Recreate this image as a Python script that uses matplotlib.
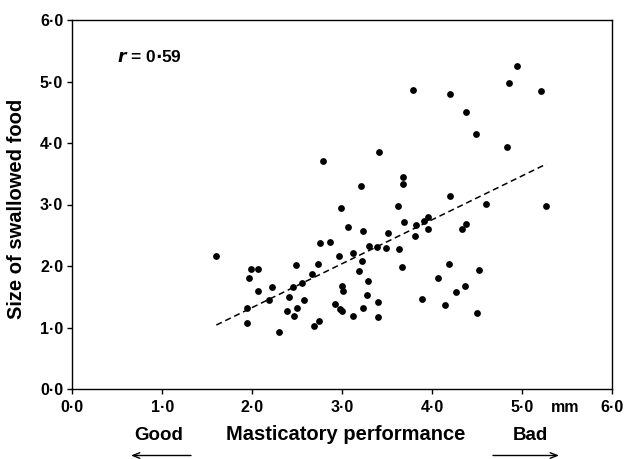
import numpy as np
import matplotlib
matplotlib.use("Agg")
import matplotlib.pyplot as plt
from matplotlib.ticker import FuncFormatter

plt.rcParams['font.family'] = ['Liberation Sans', 'DejaVu Sans']
plt.rcParams['font.weight'] = 'bold'

# masticatory performance (mm) vs size of swallowed food
perf = [1.60, 3.21, 2.98, 3.06, 3.23, 2.75, 2.86, 2.96, 3.12, 3.30,
        3.39, 3.22, 3.18, 3.28, 3.27, 3.40, 3.23, 3.40, 3.12, 3.00,
        3.01, 2.92, 2.97, 3.00, 2.73, 2.66, 2.55, 2.48, 2.45, 2.41,
        2.57, 2.50, 2.38, 2.46, 2.74, 2.69, 2.30, 2.22, 2.19, 2.06,
        1.99, 2.06, 1.96, 1.94, 1.94, 2.79, 3.41, 3.79, 4.20, 4.37,
        4.48, 4.83, 4.94, 4.85, 5.21, 3.67, 3.67, 4.20, 3.62, 4.60,
        5.26, 3.69, 3.95, 3.91, 3.82, 3.95, 3.81, 3.51, 4.37, 4.33,
        3.48, 3.63, 3.66, 4.18, 4.52, 4.06, 4.36, 4.26, 3.89, 4.14,
        4.50]
size = [2.16, 3.30, 2.95, 2.64, 2.57, 2.37, 2.39, 2.17, 2.21, 2.33,
        2.31, 2.08, 1.92, 1.76, 1.53, 1.42, 1.31, 1.17, 1.19, 1.67,
        1.60, 1.39, 1.30, 1.27, 2.03, 1.87, 1.73, 2.01, 1.66, 1.49,
        1.45, 1.32, 1.27, 1.18, 1.11, 1.02, 0.93, 1.66, 1.45, 1.59,
        1.95, 1.95, 1.80, 1.31, 1.07, 3.70, 3.85, 4.86, 4.80, 4.50,
        4.15, 3.94, 5.25, 4.98, 4.85, 3.45, 3.34, 3.14, 2.98, 3.01,
        2.98, 2.71, 2.79, 2.73, 2.66, 2.60, 2.49, 2.53, 2.68, 2.60,
        2.30, 2.27, 1.98, 2.03, 1.93, 1.81, 1.68, 1.58, 1.47, 1.36,
        1.24]

# regression line ends
fit_x = [1.60, 5.27]
fit_y = [1.04, 3.66]

ticks = [0, 1, 2, 3, 4, 5, 6]

W, H = 624, 459
fig = plt.figure(figsize=(W / 100, H / 100), dpi=100)
ax = fig.add_axes([72.3 / W, 1 - 389 / H, 540 / W, 369 / H])

ax.scatter(perf, size, s=24, color='black', zorder=3, linewidths=0)
ax.plot(fit_x, fit_y, color='black', lw=1.1, ls=(0, (4, 2.5)))

ax.set_xlim(0, 6)
ax.set_ylim(0, 6)
ax.set_xticks(ticks)
ax.set_yticks(ticks)
fmt = FuncFormatter(lambda v, p: f"{v:.1f}".replace('.', '\u00b7'))
ax.xaxis.set_major_formatter(fmt)
ax.yaxis.set_major_formatter(fmt)
ax.tick_params(direction='out', length=3.6, width=1, labelsize=11.5)
ax.tick_params(axis='x', pad=4.5)
ax.tick_params(axis='y', pad=3)
for lab in ax.get_xticklabels() + ax.get_yticklabels():
    lab.set_fontweight('bold')
for sp in ax.spines.values():
    sp.set_linewidth(1)

ax.text(0.50, 5.40, r'$\mathit{r}$ = 0$\cdot$59', fontsize=12.5, fontweight='bold', va='center')


def fx(px):
    return px / W


def fy(py):
    return 1 - py / H


# axis titles and the Good/Bad arrows under the axis
fig.text(fx(17), fy(209), 'Size of swallowed food', fontsize=14.5, fontweight='bold',
         rotation=90, ha='center', va='center')
fig.text(fx(565), fy(407), 'mm', fontsize=11.5, fontweight='bold', ha='center', va='center')
fig.text(fx(346), fy(435), 'Masticatory performance', fontsize=14.5, fontweight='bold',
         ha='center', va='center')
fig.text(fx(159), fy(435), 'Good', fontsize=13.5, fontweight='bold', ha='center', va='center')
fig.text(fx(530), fy(435), 'Bad', fontsize=13.5, fontweight='bold', ha='center', va='center')
fig.add_artist(plt.Annotation('', xy=(fx(131), fy(455.5)), xytext=(fx(191), fy(455.5)),
                              xycoords='figure fraction',
                              arrowprops=dict(arrowstyle='->,head_length=0.5,head_width=0.2',
                                              lw=1, color='black', shrinkA=0, shrinkB=0)))
fig.add_artist(plt.Annotation('', xy=(fx(559), fy(455.5)), xytext=(fx(493), fy(455.5)),
                              xycoords='figure fraction',
                              arrowprops=dict(arrowstyle='->,head_length=0.5,head_width=0.2',
                                              lw=1, color='black', shrinkA=0, shrinkB=0)))

fig.savefig('out.png', dpi=100)
